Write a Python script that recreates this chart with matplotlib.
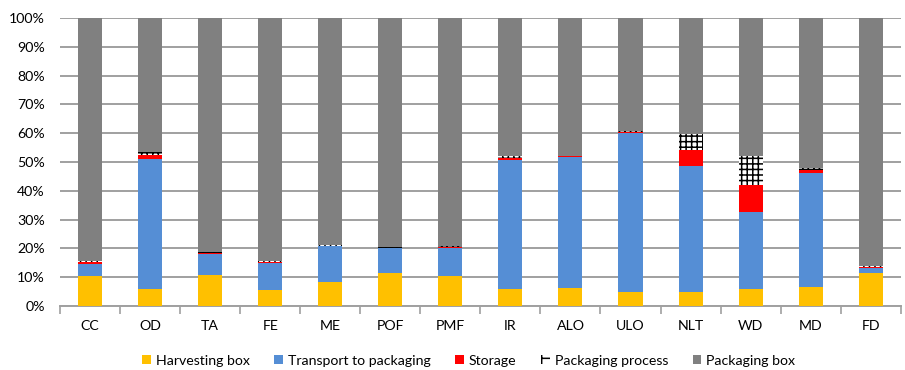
import matplotlib.pyplot as plt
import numpy as np
from matplotlib.patches import Patch

plt.rcParams['font.family'] = ['Lato', 'DejaVu Sans']
plt.rcParams['hatch.linewidth'] = 1.1

sites = ['CC', 'OD', 'TA', 'FE', 'ME', 'POF', 'PMF', 'IR', 'ALO', 'ULO', 'NLT', 'WD', 'MD', 'FD']

# share of each stage, in percent
harvesting_box = [10.5, 5.8, 10.8, 5.5, 8.4, 11.5, 10.5, 5.8, 6.3, 4.9, 4.9, 5.8, 6.7, 11.3]
transport = [4.0, 45.4, 7.1, 9.3, 12.3, 8.5, 9.8, 45.0, 45.4, 55.3, 43.8, 26.8, 39.5, 1.8]
storage = [0.7, 1.2, 0.4, 0.4, 0.2, 0.2, 0.2, 0.7, 0.3, 0.3, 5.4, 9.5, 1.1, 0.5]
packaging_process = [0.4, 1.0, 0.4, 0.5, 0.3, 0.3, 0.3, 0.6, 0.2, 0.2, 5.8, 9.9, 0.6, 0.3]
packaging_box = [100 - a - b - c - d for a, b, c, d in
                 zip(harvesting_box, transport, storage, packaging_process)]

x = np.arange(len(sites))
w = 0.4

fig = plt.figure(figsize=(9.05, 3.7), dpi=100)
ax = fig.add_axes([0.0663, 0.173, 0.929, 0.778])

bottom = np.zeros(len(sites))
for vals, col in [(harvesting_box, '#FFC000'), (transport, '#558ED5'), (storage, '#FF0000')]:
    ax.bar(x, vals, w, bottom=bottom, color=col, edgecolor='none', zorder=3)
    bottom += np.array(vals)
ax.bar(x, packaging_process, w, bottom=bottom, color='white', edgecolor='black',
       hatch='+++', linewidth=0, zorder=3)
bottom += np.array(packaging_process)
ax.bar(x, packaging_box, w, bottom=bottom, color='#808080', edgecolor='none', zorder=3)

ax.set_xlim(-0.5, len(sites) - 0.5)
ax.set_ylim(0, 100)
ax.set_yticks(range(0, 101, 10))
ax.set_yticklabels([f'{v}%' for v in range(0, 101, 10)], fontsize=10.2)
ax.yaxis.grid(True, color='#A0A0A0', linewidth=1.4, zorder=0)
ax.tick_params(axis='y', length=0, pad=11)

ax.set_xticks(x)
ax.set_xticklabels(sites, fontsize=10.2)
ax.set_xticks(np.arange(-0.5, len(sites)), minor=True)
ax.tick_params(axis='x', which='major', length=0, pad=10)
ax.tick_params(axis='x', which='minor', length=6, color='#A0A0A0', width=1.2)

for s in ['top', 'right', 'left']:
    ax.spines[s].set_visible(False)
ax.spines['bottom'].set_color('#A0A0A0')
ax.spines['bottom'].set_linewidth(1.4)

handles = [
    Patch(facecolor='#FFC000', label='Harvesting box'),
    Patch(facecolor='#558ED5', label='Transport to packaging'),
    Patch(facecolor='#FF0000', label='Storage'),
    Patch(facecolor='white', edgecolor='black', hatch='+', linewidth=0, label='Packaging process'),
    Patch(facecolor='#808080', label='Packaging box'),
]
fig.legend(handles=handles, loc='center', bbox_to_anchor=(0.518, 0.025), ncol=5, frameon=False,
           fontsize=10.2, handlelength=0.6, handleheight=0.6, handletextpad=0.35, columnspacing=1.75)

fig.savefig('out.png', dpi=100)
